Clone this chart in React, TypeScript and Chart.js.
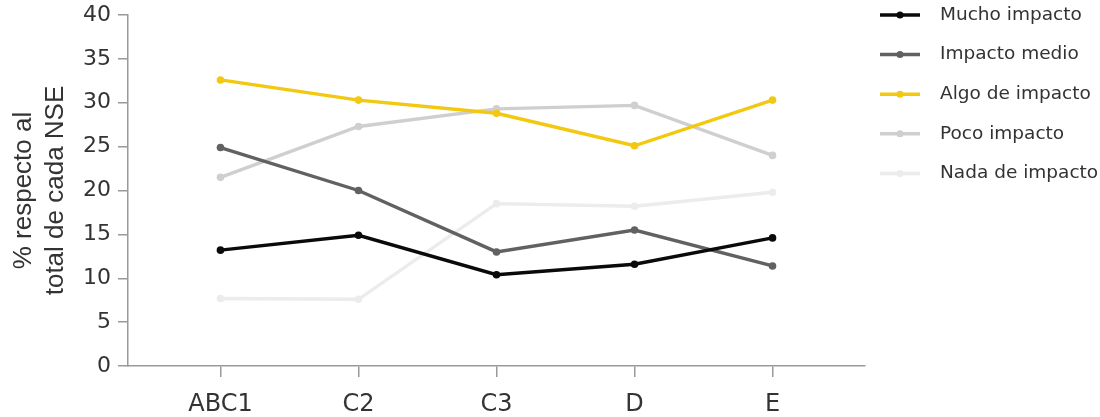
import React, { useEffect, useRef } from 'react';
import { Chart, registerables } from 'chart.js';

Chart.register(...registerables);

const categories = ['ABC1', 'C2', 'C3', 'D', 'E'];
const seriesNames = ['Mucho impacto', 'Impacto medio', 'Algo de impacto', 'Poco impacto', 'Nada de impacto'];
const mucho = [13.2, 14.9, 10.4, 11.6, 14.6];
const medio = [24.9, 20.0, 13.0, 15.5, 11.4];
const algo = [32.6, 30.3, 28.8, 25.1, 30.3];
const poco = [21.5, 27.3, 29.3, 29.7, 24.0];
const nada = [7.7, 7.6, 18.5, 18.2, 19.8];
const seriesColors = ['#0a0a0a', '#616161', '#f2c811', '#cfcfcf', '#ececec'];
const yTitle = ['% respecto al', 'total de cada NSE'];

const FONT = '"DejaVu Sans", sans-serif';

const legendPlugin = {
  id: 'customLegend',
  afterDraw(chart: any) {
    const { ctx, chartArea } = chart;
    const x0 = chartArea.right + 15;
    const lineW = 40;
    const textX = x0 + 60;
    const startY = 15;
    const step = 39.6;
    ctx.save();
    chart.data.datasets.forEach((ds: any, i: number) => {
      const y = startY + i * step;
      ctx.strokeStyle = ds.borderColor;
      ctx.lineWidth = 3.5;
      ctx.beginPath();
      ctx.moveTo(x0, y);
      ctx.lineTo(x0 + lineW, y);
      ctx.stroke();
      ctx.fillStyle = ds.borderColor;
      ctx.beginPath();
      ctx.arc(x0 + lineW / 2, y, 3.5, 0, Math.PI * 2);
      ctx.fill();
      ctx.fillStyle = '#333333';
      ctx.font = '18.5px ' + FONT;
      ctx.textBaseline = 'middle';
      ctx.textAlign = 'left';
      ctx.fillText(ds.label, textX, y);
    });
    ctx.restore();
  },
};

export default function App() {
  const ref = useRef<HTMLCanvasElement | null>(null);
  useEffect(() => {
    document.body.style.margin = '0';
    const all = [mucho, medio, algo, poco, nada];
    const chart = new Chart(ref.current as HTMLCanvasElement, {
      type: 'line',
      data: {
        datasets: all.map((vals, i) => ({
          label: seriesNames[i],
          data: vals.map((v, j) => ({ x: j, y: v })),
          borderColor: seriesColors[i],
          backgroundColor: seriesColors[i],
          pointBackgroundColor: seriesColors[i],
          pointBorderColor: seriesColors[i],
          pointRadius: 3.8,
          pointBorderWidth: 0,
          borderWidth: 3.4,
          tension: 0,
        })),
      },
      options: {
        animation: false,
        responsive: false,
        layout: { padding: { top: 15, right: 235, bottom: 0, left: 0 } },
        plugins: { legend: { display: false }, tooltip: { enabled: false } },
        scales: {
          x: {
            type: 'linear',
            min: -0.67,
            max: 4.67,
            afterBuildTicks: (scale: any) => {
              scale.ticks = categories.map((_, i) => ({ value: i }));
            },
            afterFit: (scale: any) => {
              scale.height = 51;
              scale.paddingLeft = 0;
              scale.paddingRight = 0;
            },
            ticks: {
              callback: (v: any) => categories[v as number] ?? '',
              font: { family: FONT, size: 24 },
              color: '#333333',
              padding: 13,
              maxRotation: 0,
              autoSkip: false,
            },
            grid: { drawOnChartArea: false, drawTicks: true, tickLength: 11, color: '#999999', lineWidth: 1.5 },
            border: { color: '#999999', width: 1.5 },
          },
          y: {
            min: 0,
            max: 40,
            afterFit: (scale: any) => {
              scale.width = 128;
              scale.paddingTop = 0;
              scale.paddingBottom = 0;
            },
            ticks: {
              stepSize: 5,
              font: { family: FONT, size: 22 },
              color: '#333333',
              padding: 7,
            },
            grid: { drawOnChartArea: false, drawTicks: true, tickLength: 10, color: '#999999', lineWidth: 1.5 },
            border: { color: '#999999', width: 1.5 },
            title: {
              display: true,
              text: yTitle,
              font: { family: '"Liberation Sans", Arial, sans-serif', size: 26, lineHeight: 32 / 26 },
              color: '#333333',
              padding: { top: 8, bottom: 0 },
            },
          },
        },
      },
      plugins: [legendPlugin],
    });
    return () => chart.destroy();
  }, []);
  return <canvas ref={ref} width={1100} height={417} style={{ display: 'block' }} />;
}
